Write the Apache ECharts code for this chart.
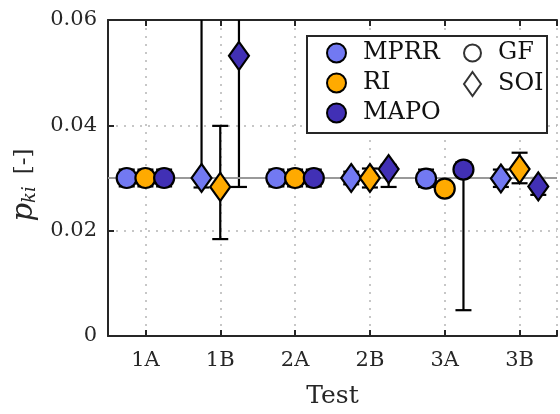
<!DOCTYPE html>
<html>
<head>
<meta charset="utf-8">
<script src="https://cdn.jsdelivr.net/npm/echarts@6/dist/echarts.min.js"></script>
<style>html,body{margin:0;padding:0;background:#fff;}#c{width:560px;height:414px;}</style>
</head>
<body>
<div id="c"></div>
<script>
// ---- data ----
var tests = ['1A', '1B', '2A', '2B', '3A', '3B'];
var methods = ['MPRR', 'RI', 'MAPO'];
var testMethod = ['GF', 'SOI', 'GF', 'SOI', 'GF', 'SOI'];
var refValue = 0.03;
var yTicks = [0, 0.02, 0.04, 0.06];

var mprrVal  = [0.0300, 0.0300, 0.0300, 0.0300, 0.0299, 0.0299];
var mprrLow  = [0.0284, 0.0282, 0.0284, 0.0288, 0.0283, 0.0283];
var mprrHigh = [0.0316, 0.0800, 0.0316, 0.0312, 0.0316, 0.0316];

var riVal  = [0.0300, 0.0283, 0.0300, 0.0300, 0.0280, 0.0317];
var riLow  = [0.0284, 0.0184, 0.0284, 0.0282, 0.0268, 0.0290];
var riHigh = [0.0316, 0.0399, 0.0316, 0.0318, 0.0292, 0.0348];

var mapoVal  = [0.0300, 0.0532, 0.0300, 0.0317, 0.0316, 0.0284];
var mapoLow  = [0.0284, 0.0283, 0.0284, 0.0283, 0.0049, 0.0268];
var mapoHigh = [0.0316, 0.0800, 0.0316, 0.0325, 0.0330, 0.0300];

// ---- styling ----
var colors = ['#7279f2', '#ffaa00', '#4130b5'];
var offsets = [-0.25, 0, 0.25];
var FONT = 'DejaVu Serif';
var AX = '#262626';

var vals = [mprrVal, riVal, mapoVal];
var lows = [mprrLow, riLow, mapoLow];
var highs = [mprrHigh, riHigh, mapoHigh];

var series = [];
var errData = [];
methods.forEach(function (m, mi) {
  var data = tests.map(function (t, ti) {
    var isSOI = testMethod[ti] === 'SOI';
    errData.push([ti + 1 + offsets[mi], lows[mi][ti], highs[mi][ti]]);
    return {
      value: [ti + 1 + offsets[mi], vals[mi][ti]],
      symbol: isSOI ? 'diamond' : 'circle',
      symbolSize: isSOI ? [20, 28] : 20
    };
  });
  series.push({
    name: m,
    type: 'scatter',
    symbol: 'circle',
    z: 5,
    data: data,
    itemStyle: { color: colors[mi], borderColor: '#000', borderWidth: 2.2, opacity: 1 },
    emphasis: { disabled: true }
  });
});

series.unshift({
  type: 'custom',
  name: 'err',
  z: 3,
  clip: true,
  silent: true,
  data: errData,
  renderItem: function (params, api) {
    var x = api.value(0);
    var lo = api.coord([x, api.value(1)]);
    var hi = api.coord([x, api.value(2)]);
    var w = 8;
    var st = { stroke: '#000', lineWidth: 2.2 };
    return {
      type: 'group',
      children: [
        { type: 'line', shape: { x1: lo[0], y1: lo[1], x2: hi[0], y2: hi[1] }, style: st },
        { type: 'line', shape: { x1: lo[0] - w, y1: lo[1], x2: lo[0] + w, y2: lo[1] }, style: st },
        { type: 'line', shape: { x1: hi[0] - w, y1: hi[1], x2: hi[0] + w, y2: hi[1] }, style: st }
      ]
    };
  },
  markLine: {
    silent: true,
    symbol: 'none',
    label: { show: false },
    lineStyle: { color: '#999999', width: 2, type: 'solid' },
    data: [{ yAxis: refValue }]
  }
});

series.push({ name: 'GF', type: 'scatter', symbol: 'circle', data: [],
  itemStyle: { color: '#fff', borderColor: '#000', borderWidth: 2.5 } });
series.push({ name: 'SOI', type: 'scatter', symbol: 'diamond', data: [],
  itemStyle: { color: '#fff', borderColor: '#000', borderWidth: 2.5 } });

var gridLine = { show: true, lineStyle: { color: '#b5b5b5', width: 1.5, type: [2, 6] } };
var legendText = { fontFamily: FONT, fontSize: 24, color: '#111', lineHeight: 24, padding: [0, 0, 0, 12] };

function shapeLegend(name, icon, top) {
  return {
    z: 10, orient: 'vertical', align: 'left',
    left: 463, top: top, padding: 0,
    itemWidth: 17, itemHeight: 24,
    data: [{ name: name, icon: icon }],
    textStyle: legendText,
    selectedMode: false
  };
}

var option = {
  animation: false,
  backgroundColor: '#fff',
  grid: { left: 108, top: 20, width: 456, height: 317 },
  xAxis: [{
    type: 'value',
    min: 0.5, max: 6.5, splitNumber: 6,
    position: 'bottom',
    name: 'Test',
    nameLocation: 'middle',
    nameGap: 48,
    nameTextStyle: { fontFamily: FONT, fontSize: 25, color: AX },
    axisLine: { show: true, onZero: false, lineStyle: { color: AX, width: 2 } },
    axisTick: { show: true, inside: true, length: 6, lineStyle: { color: AX, width: 2 } },
    axisLabel: {
      margin: 14, fontFamily: FONT, fontSize: 21, color: AX,
      formatter: function (v) { return Number.isInteger(v) ? tests[v - 1] : ''; }
    },
    splitLine: gridLine
  }, {
    type: 'value',
    min: 0.5, max: 6.5, splitNumber: 6,
    position: 'top',
    axisLine: { show: true, onZero: false, lineStyle: { color: AX, width: 2 } },
    axisTick: { show: true, inside: true, length: 6, lineStyle: { color: AX, width: 2 } },
    axisLabel: { show: false },
    splitLine: { show: false }
  }],
  yAxis: {
    type: 'value',
    min: yTicks[0], max: yTicks[yTicks.length - 1], interval: yTicks[1] - yTicks[0],
    name: '{p|p}{s|ki}{b|[-]}',
    nameLocation: 'middle',
    nameRotate: 90,
    nameGap: 66,
    nameTextStyle: {
      color: AX,
      rich: {
        p: { fontFamily: FONT, fontStyle: 'italic', fontSize: 29, color: AX },
        s: { fontFamily: FONT, fontStyle: 'italic', fontSize: 18, color: AX, padding: [12, 0, 0, 0] },
        b: { fontFamily: FONT, fontSize: 23, color: AX, padding: [0, 14, 0, 12] }
      }
    },
    axisLine: { show: true, onZero: false, lineStyle: { color: AX, width: 2 } },
    axisTick: { show: true, inside: true, length: 6, lineStyle: { color: AX, width: 2 } },
    axisLabel: {
      margin: 11, fontFamily: FONT, fontSize: 21, color: AX,
      formatter: function (v) { return v === 0 ? '0' : v.toFixed(2); }
    },
    splitLine: gridLine
  },
  graphic: [{
    type: 'rect', z: 3,
    shape: { x: 307, y: 36, width: 240, height: 97 },
    style: { fill: '#fff', stroke: AX, lineWidth: 2 }
  }],
  legend: [{
    z: 10,
    orient: 'vertical',
    align: 'left',
    left: 326, top: 41, padding: 0,
    itemWidth: 19, itemHeight: 19, itemGap: 6,
    data: methods.map(function (m) { return { name: m, icon: 'circle' }; }),
    textStyle: legendText,
    selectedMode: false
  },
    shapeLegend('GF', 'circle', 41),
    shapeLegend('SOI', 'diamond', 71)
  ],
  series: series
};

var chart = echarts.init(document.getElementById('c'), null, { renderer: 'canvas' });
chart.setOption(option);
</script>
</body>
</html>
